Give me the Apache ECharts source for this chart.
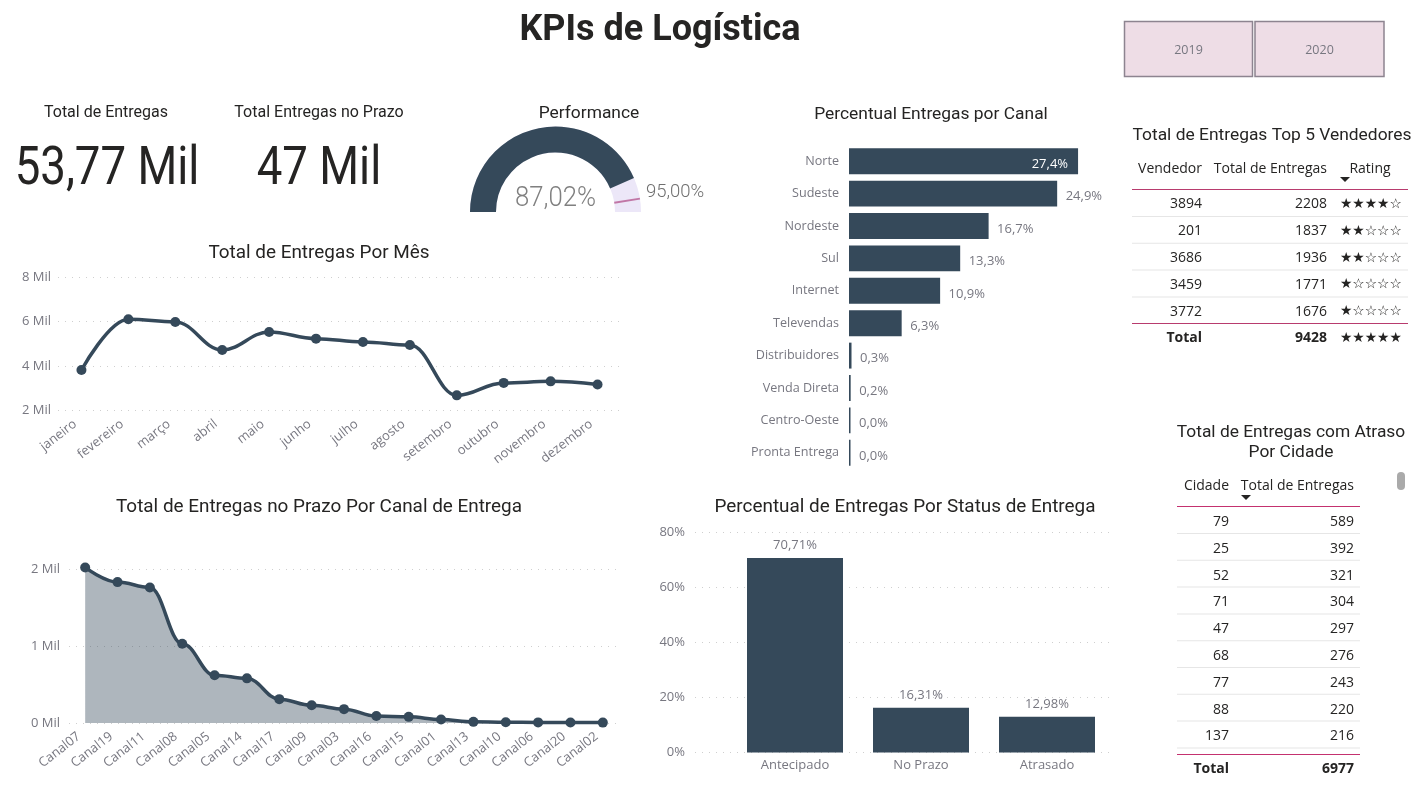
<!DOCTYPE html>
<html><head><meta charset="utf-8">
<style>html,body{margin:0;padding:0;background:#fff}#c{width:1428px;height:797px}</style>
<script src="https://cdn.jsdelivr.net/npm/echarts@6/dist/echarts.min.js"></script>
</head><body><div id="c"></div>
<script>
const meses=['janeiro','fevereiro','março','abril','maio','junho','julho','agosto','setembro','outubro','novembro','dezembro'];
const entregasMes=[3820,6100,5980,4720,5530,5230,5080,4940,2680,3240,3310,3170];
const canaisEntrega=['Canal07','Canal19','Canal11','Canal08','Canal05','Canal14','Canal17','Canal09','Canal03','Canal16','Canal15','Canal01','Canal13','Canal10','Canal06','Canal20','Canal02'];
const prazoCanal=[2020,1830,1760,1030,620,580,310,230,180,90,80,45,15,10,8,6,5];
const canais=['Norte','Sudeste','Nordeste','Sul','Internet','Televendas','Distribuidores','Venda Direta','Centro-Oeste','Pronta Entrega'];
const percCanal=[27.4,24.9,16.7,13.3,10.9,6.3,0.3,0.2,0.0,0.0];
const statusNomes=['Antecipado','No Prazo','Atrasado'];
const statusPerc=[70.71,16.31,12.98];
const performance=87.02, meta=95;
const vendedores=['3894','201','3686','3459','3772'];
const vendEntregas=['2208','1837','1936','1771','1676'];
const vendRating=['★★★★☆','★★☆☆☆','★★☆☆☆','★☆☆☆☆','★☆☆☆☆'];
const cidades=['79','25','52','71','47','68','77','88','137'];
const cidEntregas=['589','392','321','304','297','276','243','220','216'];
const anos=['2019','2020'];

const NAVY='#35495A',GREY='#777780',DARK='#252423',HEAD='Roboto',BODY='"Open Sans"';
const mil=v=>(v/1000)+' Mil';
const br=(v,d)=>v.toFixed(d).replace('.',',')+'%';
const g=[];
function txt(x,y,s,o={},sx=1){g.push({type:'text',x,y:y+1.5,scaleX:sx,silent:true,style:Object.assign({text:s,x:0,y:0,fill:DARK,font:'13px '+BODY,textAlign:'center',textVerticalAlign:'middle'},o)});}
function rect(x,y,w,h,fill,extra={}){g.push({type:'rect',shape:Object.assign({x,y,width:w,height:h},extra.shape||{}),silent:true,style:Object.assign({fill},extra.style||{})});}
function arrow(x,y){g.push({type:'polygon',silent:true,shape:{points:[[x-5,y-2],[x+5,y-2],[x,y+3]]},style:{fill:DARK}});}
const tA='17.4px '+HEAD, tB='18.9px '+HEAD;
txt(660,29,'KPIs de Logística',{font:'bold 36px '+HEAD});
anos.forEach((a,i)=>{const x=[1124.5,1255][i],w=[128,129][i];
 rect(x,21.5,w,55,'#EEDDE6',{style:{stroke:'#8D8490',lineWidth:1.5}});
 txt(x+w/2,48.5,a,{font:'12.5px '+BODY,fill:GREY});});
txt(106,111,'Total de Entregas',{font:'16px '+HEAD});
txt(319,111,'Total Entregas no Prazo',{font:'16px '+HEAD});
txt(107,169,'53,77 Mil',{font:'53px '+HEAD},0.86);
txt(319,169,'47 Mil',{font:'53px '+HEAD},0.86);
txt(589,112,'Performance',{font:tA});
txt(931,113,'Percentual Entregas por Canal',{font:tA});
txt(1272,134,'Total de Entregas Top 5 Vendedores',{font:tA});
txt(319,252,'Total de Entregas Por Mês',{font:tB});
txt(319,506,'Total de Entregas no Prazo Por Canal de Entrega',{font:tB});
txt(905,506,'Percentual de Entregas Por Status de Entrega',{font:tB});
txt(1291,431.5,'Total de Entregas com Atraso',{font:tA});
txt(1291,451.5,'Por Cidade',{font:tA});
txt(555.5,197,br(performance,2),{font:'300 28px '+HEAD,fill:'#808080'},0.92);
txt(646,191,br(meta,2),{font:'300 18.5px '+HEAD,fill:'#707070',textAlign:'left'});

// tabela vendedores
const hf='14px '+BODY,cf='14px '+BODY,bf='bold 14px '+BODY,sf='13.8px "DejaVu Sans"';
txt(1202,168,'Vendedor',{font:hf,textAlign:'right'});
txt(1327,168,'Total de Entregas',{font:hf,textAlign:'right'});
txt(1370,168,'Rating',{font:hf});
arrow(1345,179);
rect(1132,189,276,1,'#B83B6E');
vendedores.forEach((v,i)=>{const y=203+i*26.8;
 txt(1202,y,v,{font:cf,textAlign:'right'});
 txt(1327,y,vendEntregas[i],{font:cf,textAlign:'right'});
 txt(1340,y,vendRating[i],{font:sf,textAlign:'left'});
 if(i<4)rect(1132,216+i*26.8,276,1,'#E6E6E6');
});
rect(1132,323,276,1,'#B83B6E');
txt(1202,337,'Total',{font:bf,textAlign:'right'});
txt(1327,337,'9428',{font:bf,textAlign:'right'});
txt(1340,337,'★★★★★',{font:sf,textAlign:'left'});

// tabela cidades
txt(1229,484.5,'Cidade',{font:hf,textAlign:'right'});
txt(1354,484.5,'Total de Entregas',{font:hf,textAlign:'right'});
arrow(1246,497);
rect(1177,506,183,1,'#C4316F');
cidades.forEach((c,i)=>{const y=520.5+i*26.8;
 txt(1229,y,c,{font:cf,textAlign:'right'});
 txt(1354,y,cidEntregas[i],{font:cf,textAlign:'right'});
 rect(1177,533+i*26.8,183,1,'#E6E6E6');
});
rect(1177,754,183,1,'#C4316F');
txt(1229,767.5,'Total',{font:bf,textAlign:'right'});
txt(1354,767.5,'6977',{font:bf,textAlign:'right'});
rect(1397,472,8,18,'#AAAAAA',{shape:{r:4}});

const dotted={show:true,lineStyle:{type:[1,6],color:'#CFCFCF',width:1}};
const lab={color:GREY,fontFamily:BODY,fontSize:12.6};
const rot={color:GREY,fontFamily:BODY,fontSize:13,rotate:38,margin:7,interval:0,padding:[0,8,0,0]};
const yLab={color:GREY,fontFamily:BODY,fontSize:13,padding:[3,0,0,0]};
const option={
 animation:false,
 graphic:g,
 grid:[
  {left:58,right:1428-621,top:277,height:133.5},
  {left:69,right:1428-619,top:569,height:154},
  {left:849,width:250.8,top:145,height:324},
  {left:695,width:415,top:532.5,height:220},
  {left:732,width:378,top:532.5,height:220}
 ],
 xAxis:[
  {gridIndex:0,type:'category',data:meses,axisLine:{show:false},axisTick:{show:false},axisLabel:rot},
  {gridIndex:1,type:'category',data:canaisEntrega,axisLine:{show:false},axisTick:{show:false},axisLabel:rot},
  {gridIndex:2,type:'value',min:0,max:30,show:false},
  {gridIndex:3,type:'category',data:[],show:false},
  {gridIndex:4,type:'category',data:statusNomes,axisLine:{show:false},axisTick:{show:false},axisLabel:{...lab,fontSize:13,margin:6}}
 ],
 yAxis:[
  {gridIndex:0,type:'value',min:2000,max:8000,interval:2000,axisLine:{show:false},axisTick:{show:false},splitLine:dotted,axisLabel:{...yLab,margin:7,formatter:mil}},
  {gridIndex:1,type:'value',min:0,max:2000,interval:1000,axisLine:{show:false},axisTick:{show:false},splitLine:dotted,axisLabel:{...yLab,margin:9,formatter:mil}},
  {gridIndex:2,type:'category',inverse:true,data:canais,axisLine:{show:false},axisTick:{show:false},axisLabel:{...lab,margin:10,padding:[4,0,0,0]}},
  {gridIndex:3,type:'value',min:0,max:80,interval:20,axisLine:{show:false},axisTick:{show:false},splitLine:dotted,axisLabel:{...yLab,margin:10,formatter:v=>v+'%'}},
  {gridIndex:4,type:'value',min:0,max:80,show:false}
 ],
 series:[
  {type:'line',xAxisIndex:0,yAxisIndex:0,data:entregasMes,smooth:0.4,smoothMonotone:'x',symbol:'circle',symbolSize:10,itemStyle:{color:NAVY},lineStyle:{color:NAVY,width:3.5}},
  {type:'line',xAxisIndex:1,yAxisIndex:1,data:prazoCanal,smooth:0.4,smoothMonotone:'x',clip:false,symbol:'circle',symbolSize:10,itemStyle:{color:NAVY},lineStyle:{color:NAVY,width:3.5},areaStyle:{color:NAVY,opacity:0.4}},
  {type:'bar',xAxisIndex:2,yAxisIndex:2,data:percCanal.map((v,i)=>({value:v,label:i===0?{position:'insideRight',color:'#fff',distance:10}:{}})),barWidth:'80%',barMinHeight:1.5,itemStyle:{color:NAVY},
   label:{show:true,position:'right',distance:8.5,offset:[0,3],color:GREY,fontFamily:BODY,fontSize:13,formatter:p=>br(p.value,1)}},
  {type:'bar',xAxisIndex:4,yAxisIndex:4,data:statusPerc,barWidth:96,itemStyle:{color:NAVY},
   label:{show:true,position:'top',distance:6,color:GREY,fontFamily:BODY,fontSize:13,formatter:p=>br(p.value,2)}},
  {type:'gauge',center:[555.5,212],radius:85.5,startAngle:180,endAngle:0,min:0,max:100,data:[{value:performance}],
   progress:{show:true,width:26,overlap:false,itemStyle:{color:NAVY}},
   axisLine:{lineStyle:{width:26,color:[[1,'#ECE7F8']]}},axisTick:{show:false},splitLine:{show:false},axisLabel:{show:false},
   pointer:{show:false},anchor:{show:false},title:{show:false},detail:{show:false}},
  {type:'gauge',center:[555.5,212],radius:85.5,startAngle:180,endAngle:0,min:0,max:100,data:[{value:meta}],
   progress:{show:false},axisLine:{show:false},axisTick:{show:false},splitLine:{show:false},axisLabel:{show:false},
   pointer:{show:true,icon:'rect',length:26,width:2,offsetCenter:[0,-59.5],itemStyle:{color:'#C177A6'}},anchor:{show:false},title:{show:false},detail:{show:false}}
 ]
};
echarts.init(document.getElementById('c')).setOption(option);
</script></body></html>
